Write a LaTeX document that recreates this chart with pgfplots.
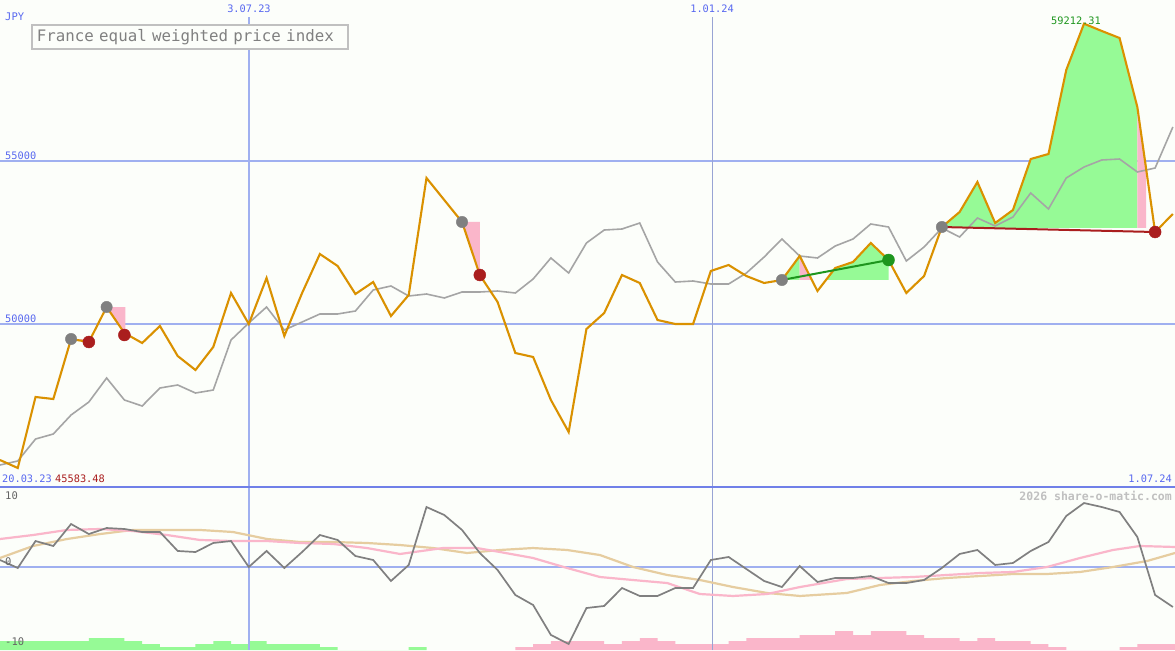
\documentclass[border=0pt]{standalone}
\usepackage{pgfplots}
\usepackage{pgfplotstable}
\pgfplotsset{compat=1.18}
\usepackage{fontspec}
\setmainfont{DejaVu Sans Mono}
\definecolor{bg}{RGB}{252,254,250}
\definecolor{gridblue}{RGB}{160,176,240}
\definecolor{sepblue}{RGB}{112,128,232}
\definecolor{lblblue}{RGB}{88,104,240}
\definecolor{orangeline}{RGB}{218,145,0}
\definecolor{grayline}{RGB}{165,165,165}
\definecolor{darkgrayline}{RGB}{128,128,128}
\definecolor{pinkc}{RGB}{250,182,202}
\definecolor{greenfill}{RGB}{150,250,150}
\definecolor{tanc}{RGB}{230,205,160}
\definecolor{darkred}{RGB}{170,30,30}
\definecolor{darkgreen}{RGB}{30,150,30}
\definecolor{markgray}{RGB}{128,128,128}
\definecolor{boxgray}{RGB}{192,192,192}
\definecolor{titlegray}{RGB}{128,128,128}
\definecolor{lowlbl}{RGB}{100,100,100}

\pgfplotstableread{
i price bench
0 45828 45675
1 45583 45798
2 47761 46472
3 47699 46626
4 49540 47209
5 49448 47607
6 50521 48344
7 49724 47669
8 49417 47485
9 49939 48037
10 49018 48129
11 48589 47883
12 49294 47975
13 50951 49509
14 50000 50031
15 51411 50521
16 49632 49816
17 50951 50061
18 52147 50307
19 51779 50307
20 50920 50399
21 51288 51043
22 50245 51166
23 50890 50859
24 54479 50920
25 53804 50798
26 53129 50982
27 51503 50982
28 50675 51012
29 49110 50951
30 48988 51380
31 47669 52025
32 46687 51564
33 49847 52485
34 50337 52883
35 51503 52914
36 51258 53098
37 50123 51902
38 50000 51288
39 50000 51319
40 51626 51227
41 51810 51227
42 51472 51564
43 51258 52055
44 51350 52607
45 52086 52086
46 51012 52025
47 51718 52393
48 51902 52607
49 52485 53068
50 51963 52975
51 50951 51933
52 51472 52362
53 52975 52945
54 53436 52669
55 54356 53252
56 53098 53006
57 53497 53282
58 55061 54018
59 55215 53528
60 57791 54479
61 59212 54816
62 58988 55031
63 58773 55061
64 56656 54663
65 52822 54785
66 53374 56043
}\maindata

\pgfplotstableread{
i mom
0 1.0
1 -0.14
2 3.71
3 3.0
4 6.14
5 4.71
6 5.57
7 5.43
8 5.0
9 5.0
10 2.29
11 2.14
12 3.43
13 3.71
14 0
15 2.29
16 -0.14
17 2.14
18 4.57
19 3.86
20 1.57
21 1.0
22 -2.0
23 0.29
24 8.57
25 7.43
26 5.29
27 2.0
28 -0.43
29 -4.0
30 -5.43
31 -9.71
32 -11.0
33 -5.86
34 -5.57
35 -3.0
36 -4.14
37 -4.14
38 -3.0
39 -3.0
40 1.0
41 1.43
42 -0.29
43 -2.0
44 -2.86
45 0.14
46 -2.14
47 -1.57
48 -1.57
49 -1.29
50 -2.29
51 -2.29
52 -1.86
53 -0.14
54 1.86
55 2.43
56 0.29
57 0.57
58 2.29
59 3.57
60 7.29
61 9.14
62 8.57
63 7.86
64 4.29
65 -4.0
66 -5.71
}\momdata

\begin{document}
\begin{tikzpicture}
% ---------- histogram bars (drawn first, carries lower background) ----------
\begin{axis}[at={(0,0)}, anchor=south west, width=1175pt, height=163pt, scale only axis,
  xmin=0, xmax=66.12, ymin=0, ymax=163, axis line style={draw=none},
  xtick=\empty, ytick=\empty, axis background/.style={fill=bg}]
\addplot[ybar interval, fill=greenfill, draw=none] coordinates {
 (0,9) (5,12) (7,9) (8,6) (9,3) (11,6) (12,9) (13,6) (14,9) (15,6) (18,3) (19,0) (23,3) (24,0)};
\addplot[ybar interval, fill=pinkc, draw=none] coordinates {
 (29,3) (30,6) (31,9) (34,6) (35,9) (36,12) (37,9) (38,6) (41,9) (42,12) (45,15) (47,19) (48,15)
 (49,19) (51,15) (52,12) (54,9) (55,12) (56,9) (58,6) (59,3) (60,0) (63,3) (64,6) (66.12,0)};
\end{axis}

% ---------- lower indicator panel ----------
\begin{axis}[at={(0,0)}, anchor=south west, width=1175pt, height=163pt, scale only axis,
  xmin=0, xmax=66.12, ymin=-11.86, ymax=11.43, axis line style={draw=none},
  xtick=\empty, ytick=\empty, clip=false]
\coordinate (SE) at (rel axis cs:1,0);
\draw[gridblue, line width=2pt] (axis cs:0,0) -- (axis cs:66.12,0);
\draw[gridblue, line width=2pt] (axis cs:14,-11.86) -- (axis cs:14,11.43);
\draw[gridblue!75!gray, line width=1.1pt] (axis cs:40.07,-11.86) -- (axis cs:40.07,11.43);
\addplot[tanc, line width=2.2pt] coordinates {
 (0,1.29) (1.86,3.0) (3.77,4.0) (5.63,4.71) (7.48,5.29) (9.40,5.29) (11.25,5.29) (13.11,5.0)
 (15.03,4.0) (16.88,3.57) (18.74,3.57) (20.65,3.43) (22.51,3.14) (24.37,2.71) (26.28,2.0)
 (28.14,2.43) (29.99,2.71) (31.91,2.43) (33.76,1.71) (35.62,0) (37.54,-1.14) (39.39,-1.86)
 (41.25,-2.86) (43.16,-3.71) (45.02,-4.14) (47.66,-3.71) (49.52,-2.57) (51.38,-2.0)
 (53.29,-1.57) (55.15,-1.29) (57.01,-1.0) (58.92,-1.0) (60.78,-0.71) (62.63,0) (64.55,0.86) (66.12,2.0)};
\addplot[pinkc, line width=2.2pt] coordinates {
 (0,4.0) (1.86,4.57) (3.77,5.29) (5.63,5.43) (7.48,5.14) (9.40,4.57) (11.25,3.86) (13.11,3.71)
 (15.03,3.71) (16.88,3.43) (18.74,3.29) (20.65,2.71) (22.51,1.86) (24.93,2.71) (26.84,2.71)
 (28.14,2.14) (29.99,1.29) (31.91,-0.14) (33.76,-1.43) (35.62,-1.86) (37.54,-2.29) (39.39,-3.86)
 (41.25,-4.14) (43.16,-3.86) (45.02,-2.86) (47.66,-1.71) (49.52,-1.57) (51.38,-1.43)
 (53.29,-1.14) (55.15,-0.86) (57.01,-0.71) (58.92,0) (60.78,1.29) (62.63,2.43) (64.15,3.0) (66.12,2.86)};
\addplot[darkgrayline, line width=1.7pt] table[x=i, y=mom] {\momdata};
\node[anchor=west, inner sep=0pt, text=lowlbl, font=\fontsize{10.5}{12}\selectfont] at (rel axis cs:0.00426,0.9448) {10};
\node[anchor=west, inner sep=0pt, text=lowlbl, font=\fontsize{10.5}{12}\selectfont] at (rel axis cs:0.00426,0.5399) {0};
\node[anchor=west, inner sep=0pt, text=lowlbl, font=\fontsize{10.5}{12}\selectfont] at (rel axis cs:0.00426,0.0491) {-10};
\node[anchor=east, inner sep=0pt, text=boxgray, font=\fontsize{11.5}{13}\selectfont\bfseries] at (rel axis cs:0.99745,0.9448) {2026 share-o-matic.com};
\end{axis}

% ---------- main price panel ----------
\begin{axis}[at={(0,163pt)}, anchor=south west, width=1175pt, height=487pt, scale only axis,
  xmin=0, xmax=66.12, ymin=45000, ymax=59939, axis line style={draw=none},
  xtick=\empty, ytick=\empty, axis background/.style={fill=bg}, clip=false]
\coordinate (NW) at (rel axis cs:0,1);
\draw[gridblue, line width=2pt] (axis cs:0,50000) -- (axis cs:66.12,50000);
\draw[gridblue, line width=2pt] (axis cs:0,55000) -- (axis cs:66.12,55000);
\draw[gridblue, line width=2pt] (axis cs:14,45000) -- (axis cs:14,59417);
\draw[gridblue!75!gray, line width=1.1pt] (axis cs:40.07,45000) -- (axis cs:40.07,59417);
% trade fills
\addplot[fill=pinkc, draw=none] coordinates {(4,49540) (5,49540) (5,49448)};
\addplot[fill=pinkc, draw=none] coordinates {(6,50521) (7.05,50521) (7.05,49700) (7,49724)};
\addplot[fill=pinkc, draw=none] coordinates {(26,53129) (27,53129) (27,51503)};
\addplot[fill=greenfill, draw=none] coordinates {(44,51350) (45,52086) (45,51350)};
\addplot[fill=pinkc, draw=none] coordinates {(45,52086) (45.685,51350) (45,51350)};
\addplot[fill=greenfill, draw=none] coordinates {(46.48,51350) (47,51718) (48,51902) (49,52485) (50,51963) (50,51350)};
\addplot[fill=greenfill, draw=none] coordinates {(53,52945) (53,52975) (54,53436) (55,54356) (56,53098) (57,53497)
 (58,55061) (59,55215) (60,57791) (61,59212) (62,58988) (63,58773) (64,56656) (64,52945)};
\addplot[fill=pinkc, draw=none] coordinates {(64,56656) (64.5,54739) (64.5,52945) (64,52945)};
% series
\addplot[grayline, line width=1.6pt] table[x=i, y=bench] {\maindata};
\addplot[orangeline, line width=2.1pt] table[x=i, y=price] {\maindata};
% trade lines
\addplot[darkgreen, line width=2pt] coordinates {(44,51350) (50,51963)};
\addplot[darkred, line width=2pt] coordinates {(53,52975) (65,52822)};
% markers
\addplot[only marks, mark=*, mark size=5.7pt, markgray] coordinates {(4,49540) (6,50521) (26,53129) (44,51350) (53,52975)};
\addplot[only marks, mark=*, mark size=6pt, darkred] coordinates {(5,49448) (7,49663) (27,51503) (65,52822)};
\addplot[only marks, mark=*, mark size=6pt, darkgreen] coordinates {(50,51963)};
% separator between panels
\draw[sepblue, line width=2.2pt] (rel axis cs:0,0) -- (rel axis cs:1,0);
% labels
\node[anchor=west, inner sep=0pt, text=lblblue, font=\fontsize{10.5}{12}\selectfont] at (rel axis cs:0.00426,0.9651) {JPY};
\node[anchor=north west, draw=boxgray, line width=1.8pt, fill=bg, inner xsep=5pt, inner ysep=0pt,
  text width=306pt, align=left, minimum height=24pt, text=titlegray, font=\fontsize{15.8}{17}\selectfont]
  at (rel axis cs:0.02638,0.95072) {France equal weighted price index};
\node[anchor=center, inner sep=1pt, fill=bg, text=lblblue, font=\fontsize{10.3}{12}\selectfont] at (rel axis cs:0.2119,0.98152) {3.07.23};
\node[anchor=center, inner sep=1pt, fill=bg, text=lblblue, font=\fontsize{10.3}{12}\selectfont] at (rel axis cs:0.60596,0.98152) {1.01.24};
\node[anchor=west, inner sep=0pt, text=lblblue, font=\fontsize{10.3}{12}\selectfont] at (rel axis cs:0.00426,0.6797) {55000};
\node[anchor=west, inner sep=0pt, text=lblblue, font=\fontsize{10.3}{12}\selectfont] at (rel axis cs:0.00426,0.345) {50000};
\node[anchor=center, inner sep=0pt, text=darkgreen, font=\fontsize{10.3}{12}\selectfont] at (rel axis cs:0.91574,0.95688) {59212.31};
\node[anchor=west, inner sep=0pt, text=lblblue, font=\fontsize{10.3}{12}\selectfont] at (rel axis cs:0.0017,0.01643) {20.03.23};
\node[anchor=west, inner sep=0pt, text=darkred, font=\fontsize{10.3}{12}\selectfont] at (rel axis cs:0.04681,0.01643) {45583.48};
\node[anchor=east, inner sep=0pt, text=lblblue, font=\fontsize{10.3}{12}\selectfont] at (rel axis cs:0.99745,0.01643) {1.07.24};
\end{axis}
\pgfresetboundingbox
\path (NW) rectangle (SE);
\end{tikzpicture}
\end{document}
